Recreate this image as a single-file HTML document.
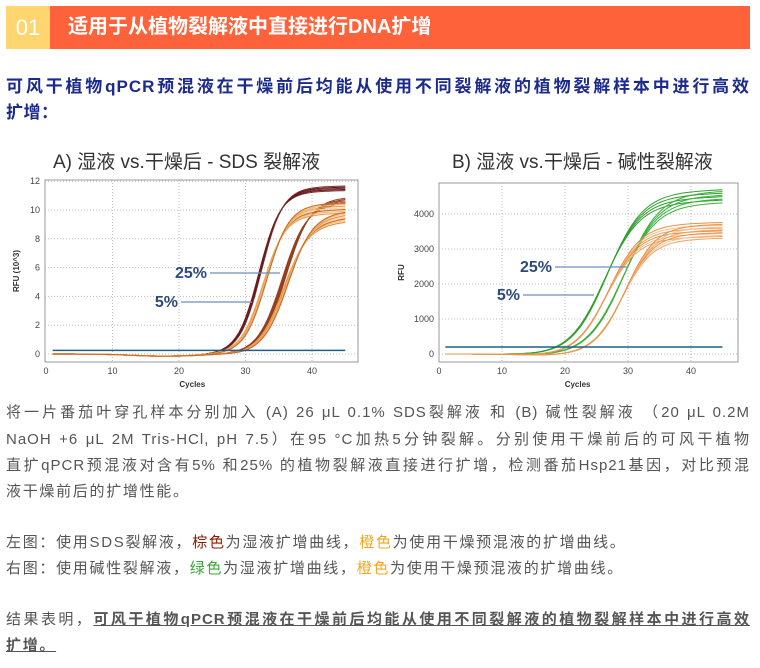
<!DOCTYPE html>
<html><head><meta charset="utf-8"><style>
body{margin:0;width:760px;height:668px;background:#fff;overflow:hidden;position:relative;font-family:"Liberation Sans","Noto Sans CJK SC",sans-serif}
.hdr{position:absolute;left:6px;top:6px;width:744px;height:43px;background:#fd623a}
.num{position:absolute;left:0;top:0;width:44px;height:43px;background:#fed56f;color:#fff;font-size:22px;line-height:43px;text-align:center}
.ht{position:absolute;left:62px;top:0;line-height:43px;color:#fff;font-weight:bold;font-size:20px}
.bl{position:absolute;left:6px;width:744px;color:#1b2a8c;font-weight:bold;font-size:17px;letter-spacing:0.5px}
.t{position:absolute;left:6px;width:744px;color:#555;font-size:15px;letter-spacing:1.7px;white-space:nowrap;line-height:20px}
.j{text-align:justify;text-align-last:justify;white-space:normal;letter-spacing:1px}
</style></head><body>
<div class="hdr"><div class="num">01</div><div class="ht">适用于从植物裂解液中直接进行DNA扩增</div></div>
<div class="bl j" style="top:72px">可风干植物qPCR预混液在干燥前后均能从使用不同裂解液的植物裂解样本中进行高效</div>
<div class="bl" style="top:98px">扩增：</div>
<svg id="s" width="760" height="400" style="position:absolute;left:0;top:0" font-family="Liberation Sans, Noto Sans CJK SC, sans-serif"></svg>
<div class="t j" style="top:403px">将一片番茄叶穿孔样本分别加入 (A) 26 μL 0.1% SDS裂解液 和 (B) 碱性裂解液 （20 μL 0.2M</div>
<div class="t j" style="top:430px">NaOH +6 μL 2M Tris-HCl, pH 7.5）在95 °C加热5分钟裂解。分别使用干燥前后的可风干植物</div>
<div class="t j" style="top:456px">直扩qPCR预混液对含有5% 和25% 的植物裂解液直接进行扩增，检测番茄Hsp21基因，对比预混</div>
<div class="t" style="top:482px">液干燥前后的扩增性能。</div>
<div class="t" style="top:533px">左图：使用SDS裂解液，<span style="color:#8b1a00">棕色</span>为湿液扩增曲线，<span style="color:#f5a623">橙色</span>为使用干燥预混液的扩增曲线。</div>
<div class="t" style="top:559px">右图：使用碱性裂解液，<span style="color:#3aa53a">绿色</span>为湿液扩增曲线，<span style="color:#f5a623">橙色</span>为使用干燥预混液的扩增曲线。</div>
<div class="t j" style="top:610px">结果表明，<b style="text-decoration:underline">可风干植物qPCR预混液在干燥前后均能从使用不同裂解液的植物裂解样本中进行高效</b></div>
<div class="t" style="top:636px"><b style="text-decoration:underline">扩增。</b></div>
<script>
var s=document.getElementById('s'),h='';
function T(x,y,t,a){h+='<text x="'+x+'" y="'+y+'" '+(a||'')+'>'+t+'</text>';}
function chart(o){
 var X=function(c){return o.x0+o.dx*c},Y=function(v){return o.y0-o.dy*v};
 h+='<rect x="'+o.bx+'" y="'+o.by+'" width="'+o.bw+'" height="'+o.bh+'" fill="#fff" stroke="#999"/>';
 for(var c=10;c<=40;c+=10)h+='<line x1="'+X(c)+'" x2="'+X(c)+'" y1="'+o.by+'" y2="'+(o.by+o.bh)+'" stroke="#bbb" stroke-dasharray="1,2"/>';
 o.yt.forEach(function(v){h+='<line x1="'+o.bx+'" x2="'+(o.bx+o.bw)+'" y1="'+Y(v)+'" y2="'+Y(v)+'" stroke="#bbb" stroke-dasharray="1,2"/>';T(o.bx-5,Y(v)+3,v*o.ym,'font-size="9" fill="#444" text-anchor="end"');});
 for(c=0;c<=40;c+=10)T(X(c),o.by+o.bh+12,c,'font-size="9" fill="#444" text-anchor="middle"');
 T(X(22),o.by+o.bh+25,'Cycles','font-size="8" font-weight="bold" fill="#333" text-anchor="middle"');
 h+='<text transform="translate('+o.ylx+','+(o.by+o.bh/2)+') rotate(-90)" font-size="8" font-weight="bold" fill="#333" text-anchor="middle">'+o.yl+'</text>';
 o.series.forEach(function(sr){
  var d='';for(var c=1;c<=45;c+=0.5){var v=sr.p/(1+Math.exp(-sr.k*(c-sr.m)))+sr.l*(c-30)/15*(c>30?1:0)-o.dip*Math.exp(-Math.pow((c-18)/7,2));d+=(c==1?'M':'L')+X(c).toFixed(1)+','+Y(v).toFixed(1);}
  h+='<path d="'+d+'" fill="none" stroke="'+sr.col+'" stroke-width="'+(sr.w||1)+'"/>';
 });
 h+='<line x1="'+X(1)+'" x2="'+X(45)+'" y1="'+Y(o.th)+'" y2="'+Y(o.th)+'" stroke="#1f5f8b" stroke-width="1.5"/>';
 o.lab.forEach(function(l){T(l[0],l[1],l[2],'font-size="16" font-weight="bold" fill="#2d4a7c" text-anchor="end"');h+='<line x1="'+l[3]+'" x2="'+l[4]+'" y1="'+(l[1]-5)+'" y2="'+(l[1]-5)+'" stroke="#6a8fc0" stroke-width="1.2"/>';});
 T(o.tx,168,o.title,'font-size="19" fill="#333"');
}
var A=[],B=[],i;
for(i=0;i<5;i++){A.push({p:11.2+i*0.08,k:0.62,m:32+i*0.1,l:0.15,col:i%2?'#5a1010':'#7a2a2a'});}
for(i=0;i<5;i++){A.push({p:10.2+i*0.1,k:0.55,m:35.5+i*0.15,l:0.3,col:i%2?'#8a3a20':'#a04020'});}
for(i=0;i<7;i++){A.push({p:9.5+i*0.12,k:0.6,m:32.6+i*0.1,l:0.3,col:['#f0a050','#e8c090','#d07020','#f5d0a0'][i%4],w:1.2});}
for(i=0;i<7;i++){A.push({p:8.6+i*0.12,k:0.55,m:35.7+i*0.12,l:0.6,col:['#e89040','#f0c080','#d06a20','#f2d0a8'][i%4],w:1.2});}
for(i=0;i<4;i++){B.push({p:4300+i*100,k:0.36,m:26.3+i*0.15,l:100,col:'#2ea02e'});}
for(i=0;i<4;i++){B.push({p:4250+i*110,k:0.36,m:29+i*0.15,l:80,col:'#3cb03c'});}
for(i=0;i<6;i++){B.push({p:3300+i*80,k:0.4,m:26.5+i*0.1,l:60,col:['#f0a060','#f5c090','#e89040'][i%3]});}
for(i=0;i<6;i++){B.push({p:3250+i*80,k:0.42,m:29.1+i*0.1,l:60,col:['#f0a060','#f5c090','#e89040'][i%3]});}
chart({bx:45,by:180,bw:313,bh:182,x0:46,dx:6.65,y0:354,dy:14.4,yt:[0,2,4,6,8,10,12],ym:1,dip:0.15,th:0.25,ylx:19,yl:'RFU (10^3)',series:A,lab:[[207,278,'25%',210,280],[178,307,'5%',181,252]],tx:53,title:'A) 湿液 vs.干燥后 - SDS 裂解液'});
chart({bx:439,by:183,bw:299,bh:179,x0:439,dx:6.3,y0:354,dy:0.035,yt:[0,1000,2000,3000,4000],ym:1,dip:40,th:200,ylx:404,yl:'RFU',series:B,lab:[[552,272,'25%',555,628],[520,300,'5%',523,594]],tx:452,title:'B) 湿液 vs.干燥后 - 碱性裂解液'});
s.innerHTML=h;
</script>
</body></html>
